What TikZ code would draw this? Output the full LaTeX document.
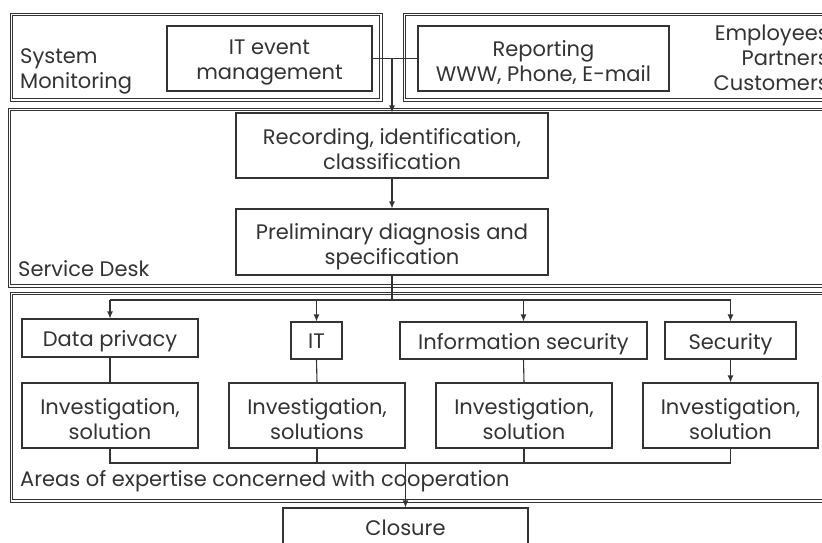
\documentclass[tikz,border=0pt]{standalone}
\usepackage{fontspec}
\setmainfont{Poppins}
\usetikzlibrary{arrows.meta}
\definecolor{ink}{HTML}{333333}
\newcommand{\twoline}[2]{\raisebox{9pt}{\parbox{#1}{\centering #2}}}
\begin{document}
\begin{tikzpicture}[x=1pt,y=-1pt,
  box/.style={draw=ink, line width=1.1pt, inner sep=0pt, align=center, text=ink, text depth=0pt},
  area/.style={draw=ink, line width=0.9pt},
  lbl/.style={text=ink, inner sep=0pt},
  conn/.style={draw=ink, line width=1.1pt},
  arr/.style={conn, -{Latex[length=7pt,width=6pt]}},
  font=\fontsize{21}{25}\selectfont]
\useasboundingbox (0,0) rectangle (822,542);
\fill[white] (0,0) rectangle (822,542);
% areas (double frames)
\draw[area] (10,13) rectangle (382,101) (12.8,15.8) rectangle (379.2,98.2);
\draw[area] (403,13) rectangle (832,101) (405.8,15.8) rectangle (829.2,98.2);
\draw[area] (8,108) rectangle (832,287) (10.8,110.8) rectangle (829.2,284.2);
\draw[area] (10,292) rectangle (832,502) (12.8,294.8) rectangle (829.2,499.2);
% labels
\node[lbl, align=left, anchor=west] (sysmon) at (20,71) {System\\Monitoring};
\node[lbl, align=right, anchor=east] (emp) at (829,58) {Employees\\Partners\\Customers};
\node[lbl, anchor=west] (sd) at (18,269) {Service Desk};
\node[lbl, anchor=west] (areas) at (20,481) {Areas of expertise concerned with cooperation};
% boxes
\node[box, minimum width=205, minimum height=65] (itev) at (269.5,58.5) {\twoline{200pt}{IT event\\management}};
\node[box, minimum width=251, minimum height=65] (rep) at (543.5,58.5) {\twoline{246pt}{Reporting\\WWW, Phone, E-mail}};
\node[box, minimum width=312, minimum height=65] (rec) at (392,145.5) {\twoline{306pt}{Recording, identification,\\classification}};
\node[box, minimum width=312, minimum height=66] (prel) at (392,242) {\twoline{306pt}{Preliminary diagnosis and\\specification}};
\node[box, minimum width=176, minimum height=38] (dp) at (110,338) {\raisebox{-2pt}{Data privacy}};
\node[box, minimum width=51, minimum height=37] (it) at (316.5,340.5) {\raisebox{-2pt}{IT}};
\node[box, minimum width=247, minimum height=37] (info) at (523.5,340.5) {\raisebox{-2pt}{Information security}};
\node[box, minimum width=131, minimum height=37] (sec) at (730.5,340.5) {\raisebox{-2pt}{Security}};
\node[box, minimum width=176, minimum height=65] (inv1) at (110,415.5) {\twoline{170pt}{Investigation,\\solution}};
\node[box, minimum width=176, minimum height=65] (inv2) at (317,415.5) {\twoline{170pt}{Investigation,\\solutions}};
\node[box, minimum width=176, minimum height=65] (inv3) at (524,415.5) {\twoline{170pt}{Investigation,\\solution}};
\node[box, minimum width=175, minimum height=65] (inv4) at (730.5,415.5) {\twoline{170pt}{Investigation,\\solution}};
\node[box, minimum width=245, minimum height=40] (clo) at (405.5,528) {Closure};
% connectors
\coordinate (j1) at (392,58.5);
\coordinate (j2) at (392,300);
\coordinate (j3) at (405.5,463);
\draw[conn] (itev.east) -- (rep.west);
\draw[arr] (j1) -- (rec.north);
\draw[arr] (rec.south) -- (prel.north);
\draw[conn] (prel.south) -- (j2);
\draw[conn] (dp.north |- j2) -- (sec.north |- j2);
\draw[arr] (dp.north |- j2) -- (dp.north);
\draw[arr] (it.north |- j2) -- (it.north);
\draw[arr] (info.north |- j2) -- (info.north);
\draw[arr] (sec.north |- j2) -- (sec.north);
\draw[conn] (dp.south) -- (inv1.north);
\draw[conn] (it.south) -- (inv2.north);
\draw[conn] (info.south) -- (inv3.north);
\draw[arr] (sec.south) -- (inv4.north);
\draw[conn] (inv1.south) |- (j3) -| (inv4.south);
\draw[conn] (inv2.south) -- (inv2.south |- j3);
\draw[conn] (inv3.south) -- (inv3.south |- j3);
\draw[arr] (j3) -- (clo.north);
\end{tikzpicture}
\end{document}
